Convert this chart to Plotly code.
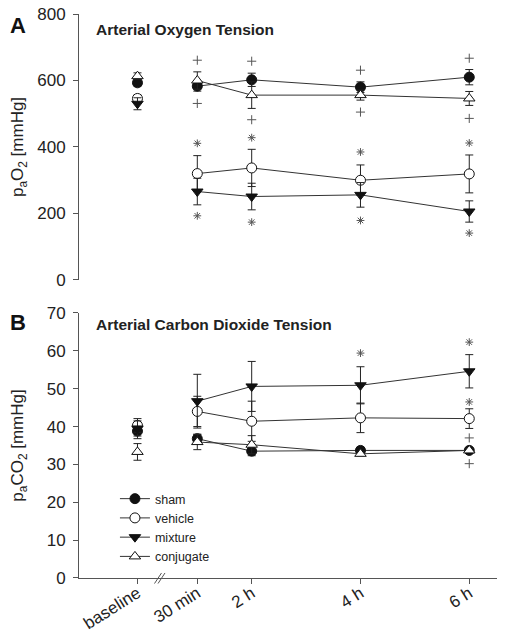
import plotly.graph_objects as go

# ---- data ----
time_labels = ["baseline", "30 min", "2 h", "4 h", "6 h"]
time_pos = [-0.1, 1, 2, 4, 6]

groups = ["sham", "vehicle", "mixture", "conjugate"]

# Panel A: arterial oxygen tension (mmHg)
pao2_sham = [593, 583, 602, 580, 610]
pao2_sham_err = [10, 15, 20, 16, 23]
pao2_vehicle = [546, 320, 337, 300, 319]
pao2_vehicle_err = [10, 54, 56, 46, 57]
pao2_mixture = [530, 266, 251, 256, 206]
pao2_mixture_err = [18, 40, 40, 37, 32]
pao2_conjugate = [613, 600, 556, 556, 546]
pao2_conjugate_err = [10, 26, 40, 15, 21]

# Panel B: arterial carbon dioxide tension (mmHg)
paco2_sham = [38.8, 36.8, 33.5, 33.7, 33.7]
paco2_sham_err = [2.0, 1.2, 1.2, 0.8, 0.5]
paco2_vehicle = [40.3, 44.0, 41.4, 42.3, 42.1]
paco2_vehicle_err = [1.8, 4.0, 5.3, 3.9, 2.6]
paco2_mixture = [39.5, 46.7, 50.6, 50.9, 54.6]
paco2_mixture_err = [2.0, 7.1, 6.6, 4.9, 4.4]
paco2_conjugate = [33.3, 35.9, 35.2, 32.8, 33.7]
paco2_conjugate_err = [2.2, 2.0, 2.4, 0.5, 0.5]

# significance markers
a_plus_x = [1, 1, 2, 2, 4, 4, 6, 6]
a_plus_y = [661, 531, 658, 482, 631, 505, 667, 486]
a_star_x = [1, 1, 2, 2, 4, 4, 6, 6]
a_star_y = [411, 193, 428, 174, 385, 179, 412, 141]
b_plus_x = [6, 6]
b_plus_y = [37.0, 30.2]
b_star_x = [4, 6, 6]
b_star_y = [59.4, 62.3, 46.5]

# ---- styles ----
styles = {
    "sham": dict(symbol="circle", color="#111111"),
    "vehicle": dict(symbol="circle", color="white"),
    "mixture": dict(symbol="triangle-down", color="#111111"),
    "conjugate": dict(symbol="triangle-up", color="white"),
}
LINE = "#333333"
SIG = "#555555"
FONT = "Liberation Sans, Arial, sans-serif"

panelA = {"sham": (pao2_sham, pao2_sham_err), "vehicle": (pao2_vehicle, pao2_vehicle_err),
          "mixture": (pao2_mixture, pao2_mixture_err), "conjugate": (pao2_conjugate, pao2_conjugate_err)}
panelB = {"sham": (paco2_sham, paco2_sham_err), "vehicle": (paco2_vehicle, paco2_vehicle_err),
          "mixture": (paco2_mixture, paco2_mixture_err), "conjugate": (paco2_conjugate, paco2_conjugate_err)}


def gap(v, fill=None):
    return [v[0], fill] + list(v[1:])


fig = go.Figure()

for panel, xa, ya, show in [(panelA, "x", "y", False), (panelB, "x2", "y2", True)]:
    for g in groups:
        vals, errs = panel[g]
        st = styles[g]
        fig.add_trace(go.Scatter(
            x=gap(time_pos), y=gap(vals), xaxis=xa, yaxis=ya,
            mode="lines+markers", name=g, showlegend=show, legendgroup=g,
            line=dict(color=LINE, width=1),
            marker=dict(symbol=st["symbol"], size=10, color=st["color"],
                        line=dict(color="#111111", width=1)),
            error_y=dict(type="data", array=gap(errs, 0), visible=True,
                         color="#222222", thickness=1, width=4),
            connectgaps=False,
        ))

for xs, ys, xa, ya in [(a_plus_x, a_plus_y, "x", "y"), (b_plus_x, b_plus_y, "x2", "y2")]:
    fig.add_trace(go.Scatter(x=xs, y=ys, xaxis=xa, yaxis=ya, mode="markers", showlegend=False,
                             marker=dict(symbol="cross-thin-open", size=6.5, color=SIG,
                                         line=dict(color=SIG, width=1)), hoverinfo="skip"))
for xs, ys, xa, ya in [(a_star_x, a_star_y, "x", "y"), (b_star_x, b_star_y, "x2", "y2")]:
    fig.add_trace(go.Scatter(x=xs, y=ys, xaxis=xa, yaxis=ya, mode="markers", showlegend=False,
                             marker=dict(symbol="asterisk-open", size=6.5, color=SIG,
                                         line=dict(color=SIG, width=1)), hoverinfo="skip"))

xr = [-1.175, 6.51]
axis_common = dict(showline=True, linecolor="#555555", linewidth=1, ticks="outside", ticklen=5,
                   tickcolor="#555555", tickwidth=1, showgrid=False, zeroline=False,
                   automargin=False, ticklabeloverflow="allow",
                   tickfont=dict(size=17, family=FONT, color="#222222"))

# the page adds an 8px body margin, so the figure is sized 8px smaller
fig.update_layout(
    template="none",
    width=498, height=626,
    margin=dict(l=71, r=9, t=6, b=56, pad=0),
    plot_bgcolor="white", paper_bgcolor="white",
    font=dict(family=FONT, color="#222222"),
    xaxis=dict(domain=[0, 1], range=xr, visible=False, anchor="y", automargin=False),
    yaxis=dict(domain=[0.5284, 1], range=[0, 800], tickvals=[0, 200, 400, 600, 800], anchor="x",
               title=dict(text="p<sub>a</sub>O<sub>2</sub> [mmHg]", font=dict(size=17), standoff=18),
               ticklabelstandoff=4, **axis_common),
    xaxis2=dict(domain=[0, 1], range=xr, anchor="y2", tickvals=time_pos, ticktext=time_labels,
                tickangle=-32, ticklabelstandoff=-7, **axis_common),
    yaxis2=dict(domain=[0, 0.4699], range=[0, 70], tickvals=list(range(0, 71, 10)), anchor="x2",
                title=dict(text="p<sub>a</sub>CO<sub>2</sub> [mmHg]", font=dict(size=17), standoff=18),
                ticklabelstandoff=4, **axis_common),
    legend=dict(x=0.086, xanchor="left", y=0.0895, yanchor="middle", bgcolor="rgba(0,0,0,0)",
                font=dict(size=12.5, family=FONT, color="#222222"), tracegroupgap=0),
    annotations=[
        dict(text="<b>A</b>", x=-0.147, y=0.9796, xref="paper", yref="paper", showarrow=False,
             font=dict(size=22, family=FONT, color="#111111"), xanchor="center", yanchor="middle"),
        dict(text="<b>B</b>", x=-0.147, y=0.453, xref="paper", yref="paper", showarrow=False,
             font=dict(size=22, family=FONT, color="#111111"), xanchor="center", yanchor="middle"),
        dict(text="<b>Arterial Oxygen Tension</b>", x=0.0359, y=0.9734, xref="paper", yref="paper",
             showarrow=False, font=dict(size=15.5, family=FONT, color="#222222"),
             xanchor="left", yanchor="middle"),
        dict(text="<b>Arterial Carbon Dioxide Tension</b>", x=0.0359, y=0.4486, xref="paper",
             yref="paper", showarrow=False, font=dict(size=15.5, family=FONT, color="#222222"),
             xanchor="left", yanchor="middle"),
    ],
    shapes=[
        dict(type="line", xref="x2", yref="paper", x0=0.213, x1=0.342, y0=-0.0098, y1=0.0089,
             line=dict(color="#555555", width=1)),
        dict(type="line", xref="x2", yref="paper", x0=0.278, x1=0.406, y0=-0.0098, y1=0.0089,
             line=dict(color="#555555", width=1)),
    ],
)

fig.write_html("out.html")
